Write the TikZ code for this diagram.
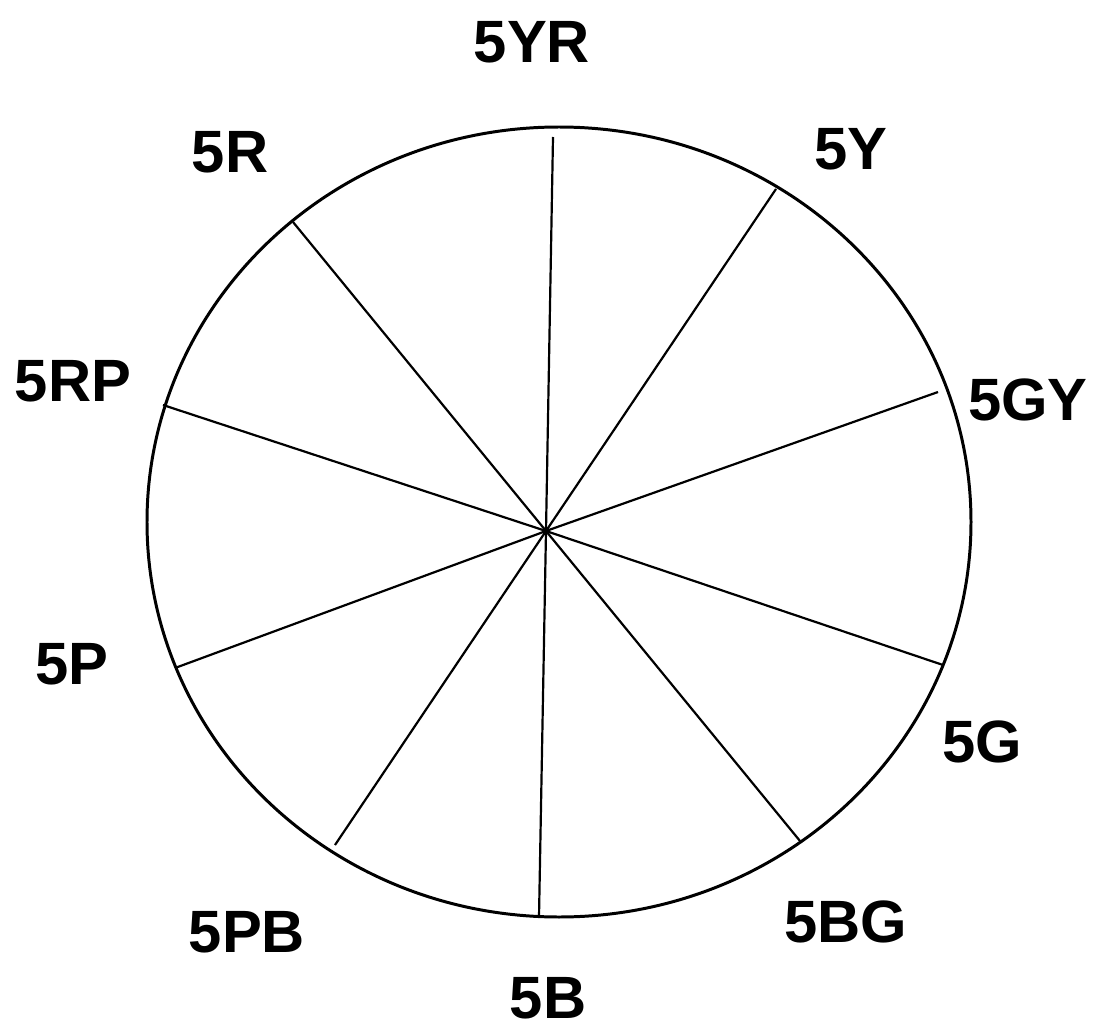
\documentclass[tikz,border=0pt]{standalone}
\usepackage{fontspec}
\setmainfont{Liberation Sans}
\usetikzlibrary{calc}

\begin{document}
\begin{tikzpicture}[x=0.02cm, y=-0.02cm, thick,
    hue/.style={font=\fontsize{34}{40}\selectfont\bfseries, inner sep=0pt},
    spoke/.style={line width=1.25pt}]
        \useasboundingbox (0,0) rectangle (1099,1034);

        % 먼셀 색상환의 바깥 원 (스캔 때문에 약간 타원형)
        \draw[line width=1.7pt] (559,522) ellipse [x radius=412, y radius=395];

        % 바퀴살이 모이는 중심
        \coordinate (hub) at (546,531);

        % 바퀴살 끝점 (5YR에서 시계방향)
        \foreach \hname/\px/\py in {yr/553/137, y/776/189, gy/938/392, g/943/665, bg/800/841,
                                   b/539/917, pb/335/845, p/175/668, rp/163/405, r/293/222}
            \coordinate (end-\hname) at (\px,\py);

        % 바퀴살 10개
        \foreach \hname in {yr, y, gy, g, bg, b, pb, p, rp, r}
            \draw[spoke] (hub) -- (end-\hname);

        % 색상 이름
        \node[hue] (l-yr) at (532,42) {5YR};
        \node[hue] (l-y) at (851,149) {5Y};
        \node[hue] (l-gy) at (1028,400) {5GY};
        \node[hue] (l-g) at (982,742) {5G};
        \node[hue] (l-bg) at (846,922) {5BG};
        \node[hue] (l-b) at (548,998) {5B};
        \node[hue] (l-pb) at (247,932) {5PB};
        \node[hue] (l-p) at (72,664) {5P};
        \node[hue] (l-rp) at (73,381) {5RP};
        \node[hue] (l-r) at (230,152) {5R};
\end{tikzpicture}
\end{document}
